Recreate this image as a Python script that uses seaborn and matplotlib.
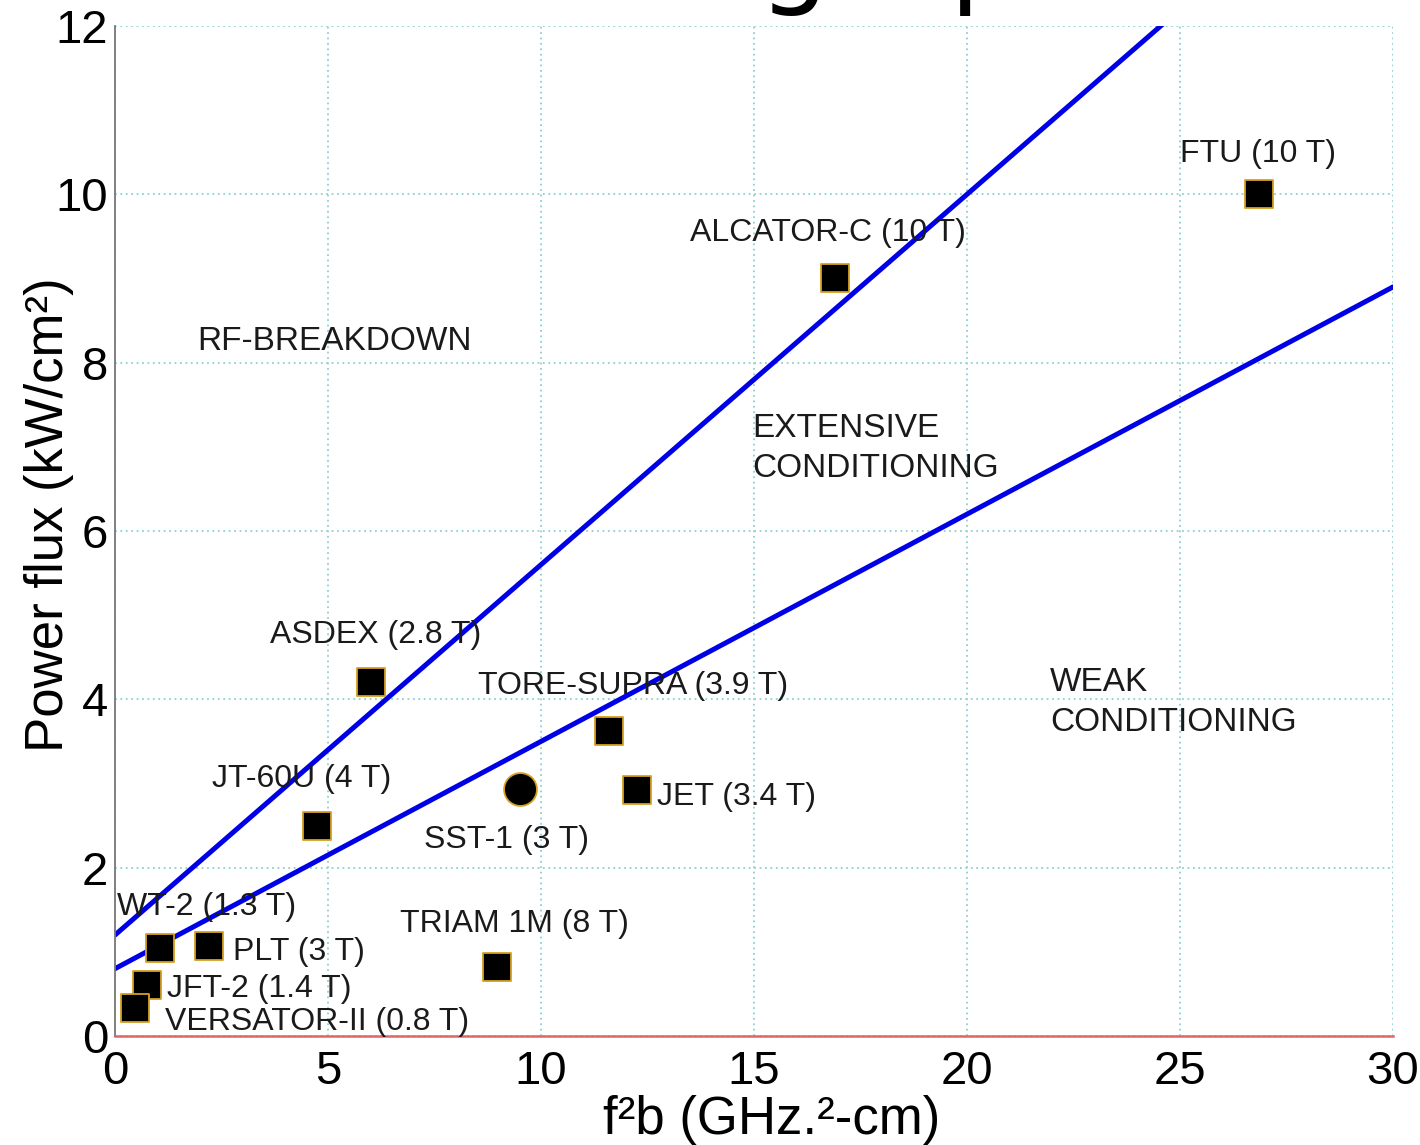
import matplotlib
matplotlib.use("Agg")
import matplotlib.pyplot as plt
import seaborn as sns
import pandas as pd


sns.set_theme(style="white")
plt.rcParams['font.family'] = ['Liberation Sans', 'DejaVu Sans']

# tokamak data (f^2 b, power flux)
devices = ['FTU (10 T)', 'ALCATOR-C (10 T)', 'ASDEX (2.8 T)', 'TORE-SUPRA (3.9 T)',
           'JET (3.4 T)', 'JT-60U (4 T)', 'WT-2 (1.3 T)', 'PLT (3 T)',
           'JFT-2 (1.4 T)', 'VERSATOR-II (0.8 T)', 'TRIAM 1M (8 T)']
f2b = [26.85, 16.9, 6.0, 11.6, 12.25, 4.75, 1.05, 2.2, 0.75, 0.47, 8.97]
power = [10.0, 9.0, 4.2, 3.62, 2.92, 2.5, 1.05, 1.07, 0.61, 0.33, 0.82]

sst_label = 'SST-1 (3 T)'
sst_f2b = [9.5]
sst_power = [2.93]

# boundary lines
upper_x = [0, 30]
upper_y = [1.2, 14.4]
lower_x = [0, 30]
lower_y = [0.8, 8.9]

x_ticks = [0, 5, 10, 15, 20, 25, 30]
y_ticks = [0, 2, 4, 6, 8, 10, 12]

# label placement (data coords, left/baseline)
label_pos = {
    'FTU (10 T)': (25.0, 10.38),
    'ALCATOR-C (10 T)': (13.5, 9.45),
    'ASDEX (2.8 T)': (3.64, 4.67),
    'TORE-SUPRA (3.9 T)': (8.52, 4.06),
    'JET (3.4 T)': (12.72, 2.74),
    'JT-60U (4 T)': (2.28, 2.96),
    'WT-2 (1.3 T)': (0.05, 1.44),
    'PLT (3 T)': (2.77, 0.90),
    'JFT-2 (1.4 T)': (1.22, 0.46),
    'VERSATOR-II (0.8 T)': (1.17, 0.07),
    'TRIAM 1M (8 T)': (6.69, 1.24),
    'SST-1 (3 T)': (7.25, 2.23),
}

df = pd.DataFrame({'f2b': f2b, 'power': power, 'device': devices})

fig = plt.figure(figsize=(14.2, 11.45), dpi=100)
ax = fig.add_axes([0.081, 0.0952, 0.9, 0.8821])

sns.lineplot(x=upper_x, y=upper_y, ax=ax, color='#0000e6', lw=3.6)
sns.lineplot(x=lower_x, y=lower_y, ax=ax, color='#0000e6', lw=3.6)

sns.scatterplot(data=df, x='f2b', y='power', ax=ax, marker='s', s=430,
                color='black', edgecolor='#d4a020', linewidth=1.3, zorder=5)
sns.scatterplot(x=sst_f2b, y=sst_power, ax=ax, marker='o', s=560,
                color='black', edgecolor='#d4a020', linewidth=1.3, zorder=5)

for name, (tx, ty) in label_pos.items():
    ax.text(tx, ty, name, fontsize=23, color='#1a1a1a', ha='left', va='baseline', zorder=6)

ax.text(1.92, 8.15, 'RF-BREAKDOWN', fontsize=24, color='#1a1a1a', ha='left', va='baseline')
ax.text(14.95, 7.40, 'EXTENSIVE\nCONDITIONING', fontsize=24, color='#1a1a1a',
        ha='left', va='top', linespacing=1.35)
ax.text(21.95, 4.38, 'WEAK\nCONDITIONING', fontsize=24, color='#1a1a1a',
        ha='left', va='top', linespacing=1.35)

ax.set_xlim(0, 30)
ax.set_ylim(0, 12)
ax.set_xticks(x_ticks)
ax.set_yticks(y_ticks)

ax.grid(True, linestyle=(0, (1, 2)), color='#8fd0d0', linewidth=1.3)
for s in ['top', 'right']:
    ax.spines[s].set_visible(False)
ax.spines['left'].set_color('#777777')
ax.spines['left'].set_linewidth(1.3)
ax.spines['bottom'].set_color('#e06666')
ax.spines['bottom'].set_linewidth(1.8)

ax.tick_params(direction='in', length=6, width=1.3, colors='#d04040',
               labelcolor='black', labelsize=34)
ax.tick_params(axis='x', pad=10)
ax.tick_params(axis='y', pad=5)

ax.set_xlabel('f²b (GHz.²-cm)', fontsize=38, color='black')
ax.set_ylabel('Power flux (kW/cm²)', fontsize=38, color='black')
ax.xaxis.set_label_coords(0.514, -0.058)
ax.yaxis.set_label_coords(-0.032, 0.516)

# cut-off title above the chart
fig.text(0.5345, 1.006, 'g', fontsize=80, family='DejaVu Sans', color='black', va='baseline')
fig.text(0.669, 1.006, 'p', fontsize=80, family='DejaVu Sans', color='black', va='baseline')

fig.savefig('out.png', dpi=100)
